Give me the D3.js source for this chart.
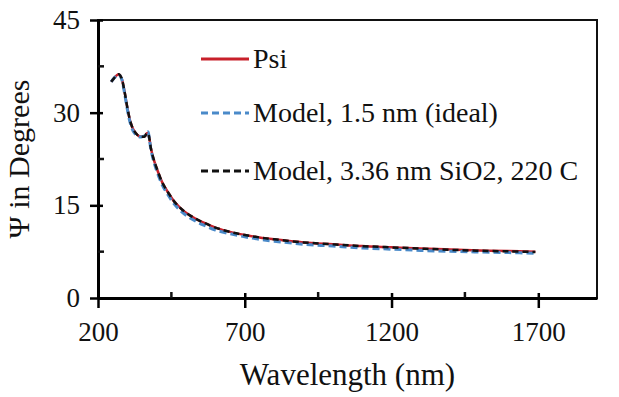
<!DOCTYPE html>
<html lang="en">
<head>
<meta charset="UTF-8">
<title>Psi vs wavelength</title>
<script src="https://d3js.org/d3.v7.min.js"></script>
<style>
body { margin: 0; background: #fff; }
svg text { font-family: "Liberation Serif", "Times New Roman", serif; fill: #111; }
</style>
</head>
<body>
<script>
// wavelength (nm)
var wavelength = [245, 255, 265, 272, 280, 290, 300, 310, 320, 330, 340, 350, 360, 365, 370, 375, 380, 390, 400, 420, 440, 460, 480, 500, 530, 560, 600, 650, 700, 750, 800, 900, 1000, 1100, 1200, 1300, 1400, 1500, 1600, 1690];
// measured Psi
var psi = [35.0, 35.6, 36.1, 36.2, 35.6, 33.5, 30.8, 28.6, 27.3, 26.6, 26.2, 26.1, 26.2, 26.6, 26.7, 25.8, 24.3, 22.4, 21.0, 18.6, 17.0, 15.6, 14.6, 13.8, 12.9, 12.2, 11.4, 10.7, 10.2, 9.8, 9.5, 9.0, 8.7, 8.4, 8.2, 8.0, 7.85, 7.7, 7.6, 7.5];
// model, 1.5 nm (ideal)
var modelIdeal = [35.0, 35.6, 36.0, 36.1, 35.5, 33.3, 30.5, 28.3, 27.0, 26.4, 26.1, 26.1, 26.3, 26.8, 26.9, 25.8, 24.1, 22.1, 20.6, 18.2, 16.6, 15.2, 14.2, 13.4, 12.5, 11.8, 11.0, 10.4, 9.9, 9.5, 9.2, 8.7, 8.4, 8.1, 7.9, 7.7, 7.55, 7.45, 7.35, 7.25];
// model, 3.36 nm SiO2, 220 C
var modelOxide = [35.0, 35.6, 36.1, 36.2, 35.6, 33.5, 30.8, 28.6, 27.3, 26.6, 26.2, 26.1, 26.2, 26.6, 26.7, 25.8, 24.3, 22.4, 21.0, 18.6, 17.0, 15.6, 14.6, 13.8, 12.9, 12.2, 11.4, 10.7, 10.2, 9.8, 9.5, 9.0, 8.7, 8.4, 8.2, 8.0, 7.8, 7.65, 7.55, 7.45];

var seriesNames = ["Psi", "Model, 1.5 nm (ideal)", "Model, 3.36 nm SiO2, 220 C"];
var xTicks = [200, 700, 1200, 1700];
var xMinor = [450, 950, 1450];
var yTicks = [0, 15, 30, 45];
var yMinor = [7.5, 22.5, 37.5];

var W = 619, H = 397;
var mLeft = 98, mRight = 597, mTop = 20, mBottom = 298;

var svg = d3.select("body").append("svg").attr("width", W).attr("height", H);

var x = d3.scaleLinear().domain([200, 1900]).range([mLeft, mRight]);
var y = d3.scaleLinear().domain([0, 45]).range([mBottom, mTop]);

// frame
svg.append("rect")
  .attr("x", mLeft).attr("y", mTop)
  .attr("width", mRight - mLeft).attr("height", mBottom - mTop)
  .attr("fill", "none").attr("stroke", "#111").attr("stroke-width", 2);

// curves
var line = d3.line()
  .x(function(d) { return x(d[0]); })
  .y(function(d) { return y(d[1]); })
  .curve(d3.curveCatmullRom);

function pairs(vals) { return wavelength.map(function(w, i) { return [w, vals[i]]; }); }

var styles = [
  { color: "#c8202a", dash: null, width: 2.5 },
  { color: "#4a8ac9", dash: "7,4", width: 3 },
  { color: "#111", dash: "6,4", width: 2.5 }
];
var allSeries = [psi, modelIdeal, modelOxide];

allSeries.forEach(function(vals, i) {
  svg.append("path")
    .datum(pairs(vals))
    .attr("d", line)
    .attr("fill", "none")
    .attr("stroke", styles[i].color)
    .attr("stroke-width", styles[i].width)
    .attr("stroke-dasharray", styles[i].dash);
});

// axes
var xAxis = svg.append("g").attr("transform", "translate(0," + mBottom + ")")
  .call(d3.axisBottom(x).tickValues(xTicks).tickFormat(d3.format("d"))
    .tickSizeInner(10).tickSizeOuter(0).tickPadding(14));
xAxis.selectAll(".tick line").attr("y1", -5).attr("stroke-width", 2.5);
xAxis.select(".domain").attr("stroke-width", 3);
xAxis.selectAll("text").style("font-size", "27px").attr("fill", "#111");

xAxis.selectAll(".minor").data(xMinor).enter().append("line")
  .attr("class", "minor")
  .attr("x1", function(d) { return x(d); }).attr("x2", function(d) { return x(d); })
  .attr("y1", 0).attr("y2", -6)
  .attr("stroke", "#111").attr("stroke-width", 2.5);

var yAxis = svg.append("g").attr("transform", "translate(" + mLeft + ",0)")
  .call(d3.axisLeft(y).tickValues(yTicks).tickSizeInner(8).tickSizeOuter(0).tickPadding(10));
yAxis.selectAll(".tick line").attr("x1", 5).attr("stroke-width", 2.5);
yAxis.select(".domain").attr("stroke-width", 3);
yAxis.selectAll("text").style("font-size", "27px").attr("fill", "#111");

yAxis.selectAll(".minor").data(yMinor).enter().append("line")
  .attr("class", "minor")
  .attr("y1", function(d) { return y(d); }).attr("y2", function(d) { return y(d); })
  .attr("x1", 0).attr("x2", 6)
  .attr("stroke", "#111").attr("stroke-width", 2.5);

// axis titles
svg.append("text")
  .attr("x", (mLeft + mRight) / 2).attr("y", 385)
  .attr("text-anchor", "middle")
  .style("font-size", "31px")
  .text("Wavelength (nm)");

svg.append("text")
  .attr("transform", "translate(29," + ((mTop + mBottom) / 2) + ") rotate(-90)")
  .attr("text-anchor", "middle")
  .style("font-size", "30px")
  .text("Ψ in Degrees");

// legend
var legendY = [59, 113, 171];
var lg = svg.append("g");
seriesNames.forEach(function(name, i) {
  lg.append("line")
    .attr("x1", 201).attr("x2", 249)
    .attr("y1", legendY[i]).attr("y2", legendY[i])
    .attr("stroke", styles[i].color)
    .attr("stroke-width", 3)
    .attr("stroke-dasharray", styles[i].dash ? "7,4" : null);
  lg.append("text")
    .attr("x", 253).attr("y", legendY[i] + 9)
    .style("font-size", "28px")
    .text(name);
});
</script>
</body>
</html>
